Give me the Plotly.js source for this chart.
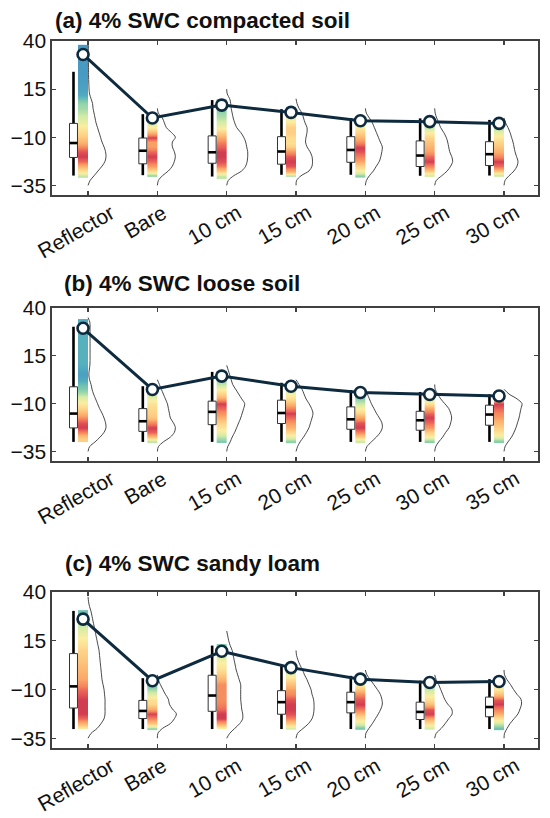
<!DOCTYPE html>
<html><head><meta charset="utf-8">
<script src="https://cdn.plot.ly/plotly-3.0.1.min.js"></script>
<style>html,body{margin:0;padding:0;background:#fff}#chart{width:550px;height:818px}</style>
</head><body><div id="chart"></div>
<script>
// ---------------- data ----------------
const yGrid = [-35,-32.5,-30,-27.5,-25,-22.5,-20,-17.5,-15,-12.5,-10,-7.5,-5,-2.5,0,2.5,5,7.5,10,12.5,15,17.5,20,22.5,25,27.5,30,32.5,35,37.5,40];
const yTickVals = [-35,-10,15,40];
const yTickText = ['\u221235','\u221210','15','40'];

const titleA = '(a) 4% SWC compacted soil';
const titleB = '(b) 4% SWC loose soil';
const titleC = '(c) 4% SWC sandy loam';

const catsA = ['Reflector','Bare','10 cm','15 cm','20 cm','25 cm','30 cm'];
const catsB = ['Reflector','Bare','15 cm','20 cm','25 cm','30 cm','35 cm'];
const catsC = ['Reflector','Bare','10 cm','15 cm','20 cm','25 cm','30 cm'];

// maximum (circles joined by the line)
const maxA = [33,0,6.7,2.9,-1.4,-1.9,-2.8];
const maxB = [29.4,-2.6,4.4,-0.9,-4.2,-5.2,-6];
const maxC = [26.1,-5.5,9.6,1.2,-4.7,-6.4,-5.9];

// box plot statistics
const whLoA = [-29.9,-29.7,-30.4,-29.5,-29.5,-30,-29.9];
const q1A   = [-20.5,-23.8,-23.5,-24,-23,-25.2,-24.7];
const medA  = [-13,-17,-17.8,-17.4,-16.6,-19.5,-18.8];
const q3A   = [-2.8,-10.4,-9.3,-9.7,-9.7,-11.9,-12.3];
const whHiA = [24,2,9.3,4.6,-0.2,-0.2,-1];

const whLoB = [-30,-30,-30,-30,-30,-30,-30];
const q1B   = [-22.7,-24.5,-21,-20.4,-23.4,-23.9,-21.3];
const medB  = [-15.2,-19.2,-14.3,-14.9,-18.2,-18.7,-15.7];
const q3B   = [-1.2,-12.6,-8.7,-8.2,-11.7,-14,-10.8];
const whHiB = [30.2,-0.9,6.6,0.9,-3,-3.9,-5.2];

const whLoC = [-30.3,-30.3,-30.3,-30.3,-30.3,-30.3,-30.3];
const q1C   = [-19.5,-24.9,-21.2,-22.7,-22,-25.4,-24];
const medC  = [-8.4,-21,-13.1,-16.5,-16.5,-21.5,-19];
const q3C   = [8.4,-15.6,-2.7,-10.6,-11.4,-16.5,-13.9];
const whHiC = [30.3,-4.2,12.5,2,-3,-5.5,-4.7];

// extent of the scattered points
const stripLoA = [-31,-30.7,-31.6,-30.4,-30.9,-30.4,-30.4];
const stripHiA = [38,2.6,9.8,5.8,0.7,-0.5,-1.5];
const stripLoB = [-30,-30.6,-30.6,-30.6,-30.6,-30.6,-30.6];
const stripHiB = [34.2,-0.3,7.1,1.7,-4,-4.5,-5];
const stripLoC = [-30.3,-30.8,-30.3,-30.5,-30.8,-30.8,-30.8];
const stripHiC = [30.7,-4.7,13.3,3.7,-3.5,-5.5,-4.7];

// kernel density (relative), listed on yGrid from -35 upward (missing = 0)
const densA = [
  [0,2,6,10,14,17,18,17.5,16,14,12.5,11,9.5,8,7,6,5,4.5,3,1.5,1,0.8,0.6,0.5,0.5,0.4,0.4,0.4,0.3,0.3,0],
  [0,1,5,11,15,17,18,17,15,15,18,14,9,7,5,1,0],
  [0,1.5,7,15,19,20.5,21,21,20,19,17,14,10,8,6.5,5.5,4.5,4,3,0.5,0],
  [0,0.5,5,13,16,16.5,16,14,11,9.5,10,11,11,9,7.5,6,3,1,0],
  [0,1,4,8,11,14,15.5,16.5,17,15,13,11,9,7,4,1,0],
  [0,1.5,7,12.5,16,18,17,15,14,13,11.5,9,6,4,2,0.5,0],
  [0,1,5,10,13,14,12.5,11,10,9,7.5,6,4,1.5,0]
];
const densB = [
  [0,1.5,7,12,16,18,17.5,16,14,11.5,9.5,7.5,5.5,4,3,1.5,0.8,1.2,1.8,2,2,2,2,2,2,2,2,1.8,0],
  [0,1,6,13,17,18,16,13,12,11,10,8,6,4,2,0],
  [0,1,3.5,5.5,8,10,12,14,15.5,17,18,15,12,9,6,4.5,3,1.5,0],
  [0,1.5,4,7.5,10.5,13,14.5,16,17,15.5,13,10,8,6,3,0],
  [0,1.5,6,11,15,17,16.5,14,11,8.5,6,4,2,0],
  [0,1,4,8,11,14.5,16,17,16,14,10,6,3,0.5,0],
  [0,1,4,7.5,10,12,13.5,15,16,17,18,13,5,0]
];
const densC = [
  [0,3,9,13,16,17,17,17,17,16.5,16,15,14,13.5,13,12.5,12,11.5,11,10,9,8,7,6,5,4,3,1.5,0.5,0],
  [0,0.5,5,13,17,19,15,12,11,8,5.5,3,1,0],
  [0,3,8,13,16,16,15,14.5,14,14,14,14,12.5,11,9.5,8.5,7.5,6.5,5.5,3.5,2,1,0],
  [0,1.5,7,12.5,16,17.5,18,18,17.5,16,15,13,11,8.5,6.5,4,2,0.5,0],
  [0,0.5,3.5,7,10,13,15.5,17,16.5,15,12,8.5,5,1.5,0],
  [0,1.5,6.5,10.5,14,17.5,17,13,10,8,6,4,1.5,0],
  [0,0.5,3,6,10,14,16,17.5,17,13,9.5,6.5,3,0.5,0]
];

// ---------------- style constants ----------------
const FONT = 'Liberation Sans, Arial, Helvetica, sans-serif';
const NAVY = '#0e2a3e';
const AXC = '#404040';
const STRIP_W = 0.145;
const BOX_OFF = -0.21;
const BOX_W = 0.115;
const MAX_OFF = -0.072;
const VIOLIN_SCALE = 1 / 69.4;
const LABEL_DX = -0.173;
const colorscale = [
  [0,'rgb(50,136,189)'],[0.1,'rgb(64,166,184)'],[0.22,'rgb(120,200,164)'],
  [0.36,'rgb(205,234,158)'],[0.5,'rgb(252,236,152)'],[0.66,'rgb(253,204,122)'],
  [0.8,'rgb(251,165,92)'],[0.9,'rgb(244,120,75)'],[0.96,'rgb(228,75,70)'],[1,'rgb(205,40,62)']
];

const panels = [
  {s:'',  cats:catsA, mx:maxA, lo:whLoA, q1:q1A, med:medA, q3:q3A, hi:whHiA, sLo:stripLoA, sHi:stripHiA, dens:densA, dom:[0.7616,0.9499], title:titleA, tx:53, ty:20},
  {s:'2', cats:catsB, mx:maxB, lo:whLoB, q1:q1B, med:medB, q3:q3B, hi:whHiB, sLo:stripLoB, sHi:stripHiB, dens:densB, dom:[0.4364,0.6235], title:titleB, tx:62, ty:283},
  {s:'3', cats:catsC, mx:maxC, lo:whLoC, q1:q1C, med:medC, q3:q3C, hi:whHiC, sLo:stripLoC, sHi:stripHiC, dens:densC, dom:[0.0856,0.2763], title:titleC, tx:63, ty:563}
];

const traces = [];
const annotations = [];
const layout = {
  width:550, height:818,
  margin:{l:52, r:12, t:0, b:0},
  paper_bgcolor:'#fff', plot_bgcolor:'#fff',
  showlegend:false,
  font:{family:FONT, color:'#111'}
};

panels.forEach(p => {
  const xa = 'x' + p.s, ya = 'y' + p.s;
  const pos = p.cats.map((c,i) => i + 1);

  // coloured strips (density coloured points)
  p.dens.forEach((d, i) => {
    const dv = yGrid.map((g,k) => d[k] || 0);
    const dmax = Math.max(...dv);
    const idx = [];
    yGrid.forEach((g,k) => { if (g > p.sLo[i] && g < p.sHi[i]) idx.push(k); });
    const edges = [p.sLo[i]];
    for (let j = 0; j < idx.length - 1; j++) edges.push((yGrid[idx[j]] + yGrid[idx[j+1]]) / 2);
    edges.push(p.sHi[i]);
    const z = idx.map(k => { const v = dv[k] / dmax; return [v, v]; });
    traces.push({
      type:'heatmap', xaxis:xa, yaxis:ya,
      x:[pos[i] - STRIP_W, pos[i] - STRIP_W/2, pos[i]], y:edges, z:z,
      zmin:0, zmax:1, colorscale:colorscale, showscale:false, zsmooth:'best',
      hoverinfo:'skip', opacity:0.9
    });
  });

  // half violins
  p.dens.forEach((d, i) => {
    const dv = yGrid.map((g,k) => d[k] || 0);
    let i0 = dv.findIndex(v => v > 0), i1 = dv.length - 1;
    while (i1 > 0 && dv[i1] <= 0) i1--;
    i0 = Math.max(0, i0 - 1); i1 = Math.min(dv.length - 1, i1 + 1);
    const xs = [], ys = [];
    for (let k = i0; k <= i1; k++) { xs.push(pos[i] + dv[k] * VIOLIN_SCALE); ys.push(yGrid[k]); }
    traces.push({type:'scatter', mode:'lines', xaxis:xa, yaxis:ya, x:xs, y:ys,
      line:{color:'#333', width:0.9, shape:'spline', smoothing:0.9}, hoverinfo:'skip'});
  });

  // whiskers (thick)
  const wx = [], wy = [];
  pos.forEach((c,i) => { wx.push(c + BOX_OFF, c + BOX_OFF, null); wy.push(p.lo[i], p.hi[i], null); });
  traces.push({type:'scatter', mode:'lines', xaxis:xa, yaxis:ya, x:wx, y:wy,
    line:{color:'#000', width:2.6}, hoverinfo:'skip'});

  // boxes (q1..q3)
  pos.forEach((c,i) => {
    const l = c + BOX_OFF - BOX_W/2, r = c + BOX_OFF + BOX_W/2;
    traces.push({type:'scatter', mode:'lines', xaxis:xa, yaxis:ya,
      x:[l, r, r, l, l], y:[p.q1[i], p.q1[i], p.q3[i], p.q3[i], p.q1[i]],
      fill:'toself', fillcolor:'#fff', line:{color:'#333', width:1}, hoverinfo:'skip'});
  });

  // medians (thick)
  const mx = [], my = [];
  pos.forEach((c,i) => { mx.push(c + BOX_OFF - BOX_W/2, c + BOX_OFF + BOX_W/2, null); my.push(p.med[i], p.med[i], null); });
  traces.push({type:'scatter', mode:'lines', xaxis:xa, yaxis:ya, x:mx, y:my,
    line:{color:'#000', width:2.6}, hoverinfo:'skip'});

  // maximum line
  traces.push({type:'scatter', mode:'lines+markers', xaxis:xa, yaxis:ya,
    x:pos.map(c => c + MAX_OFF), y:p.mx,
    line:{color:NAVY, width:3},
    marker:{symbol:'circle', size:11, color:'#fff', line:{color:NAVY, width:2.6}},
    hoverinfo:'skip'});

  layout['xaxis' + p.s] = {
    anchor:ya, range:[0.48, 7.49], tickvals:pos, showticklabels:false,
    ticks:'inside', ticklen:4, tickcolor:AXC, tickwidth:1.2,
    showline:true, mirror:'ticks', linecolor:AXC, linewidth:1.6,
    showgrid:false, zeroline:false, fixedrange:true
  };
  layout['yaxis' + p.s] = {
    anchor:xa, domain:p.dom, range:[-40, 40], tickvals:yTickVals, ticktext:yTickText,
    ticks:'inside', ticklen:4, tickcolor:AXC, tickwidth:1.2,
    showline:true, mirror:'ticks', linecolor:AXC, linewidth:1.6,
    showgrid:false, zeroline:false, fixedrange:true,
    tickfont:{family:FONT, size:21, color:'#111'}
  };

  // category labels
  p.cats.forEach((c,i) => {
    annotations.push({xref:xa, yref:ya + ' domain', x:pos[i] + LABEL_DX, y:0, yshift:-3,
      xanchor:'center', yanchor:'top', textangle:-30, showarrow:false, text:c,
      font:{family:FONT, size:21, color:'#111'}});
  });

  // panel title
  annotations.push({xref:'paper', yref:'paper', x:(p.tx - 52) / 486, y:1 - p.ty / 818,
    xanchor:'left', yanchor:'middle', showarrow:false, text:'<b>' + p.title + '</b>',
    font:{family:FONT, size:22.5, color:'#111'}});
});

layout.annotations = annotations;
Plotly.newPlot('chart', traces, layout, {staticPlot:true, displayModeBar:false});
</script>
</body></html>
